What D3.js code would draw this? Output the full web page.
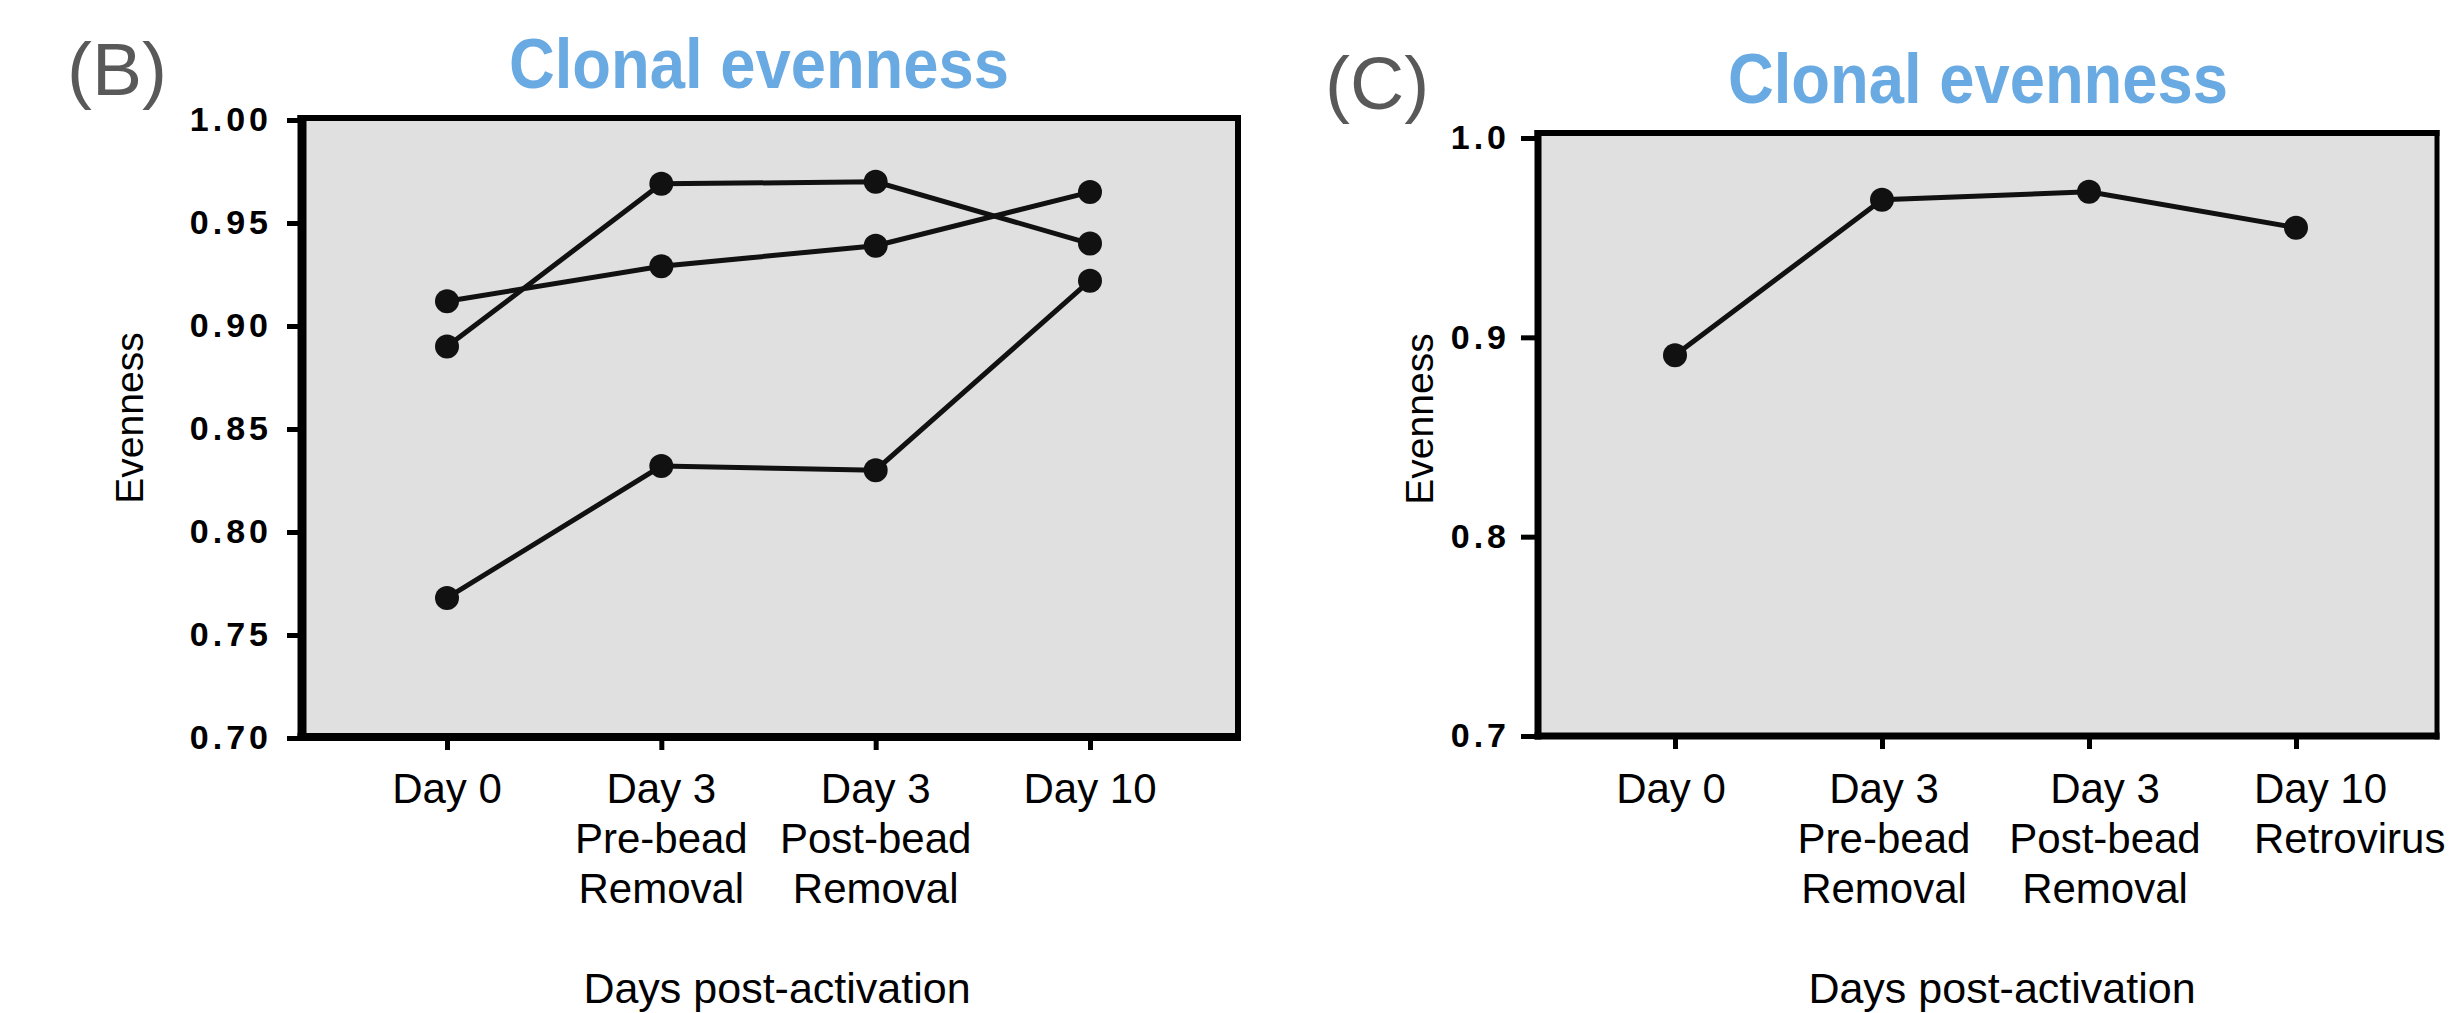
<!DOCTYPE html>
<html>
<head>
<meta charset="utf-8">
<script src="https://cdn.jsdelivr.net/npm/d3@7"></script>
<style>
  html, body { margin: 0; padding: 0; background: #ffffff; }
  svg { display: block; }
  text { font-family: "Liberation Sans", Arial, Helvetica, sans-serif; }
</style>
</head>
<body>
<svg id="chart" width="2450" height="1013"></svg>
<script>
// ---------- DATA ----------
const panelLetters = ["(B)", "(C)"];
const titleText = "Clonal evenness";
const yAxisTitle = "Evenness";
const xAxisTitle = "Days post-activation";

const categoriesB = [["Day 0"], ["Day 3", "Pre-bead", "Removal"], ["Day 3", "Post-bead", "Removal"], ["Day 10"]];
const categoriesC = [["Day 0"], ["Day 3", "Pre-bead", "Removal"], ["Day 3", "Post-bead", "Removal"], ["Day 10", "Retrovirus"]];

const seriesB1 = [0.890, 0.969, 0.970, 0.940];
const seriesB2 = [0.912, 0.929, 0.939, 0.965];
const seriesB3 = [0.768, 0.832, 0.830, 0.922];
const seriesC1 = [0.891, 0.969, 0.973, 0.955];

const ticksB = [0.70, 0.75, 0.80, 0.85, 0.90, 0.95, 1.00];
const ticksC = [0.7, 0.8, 0.9, 1.0];

// ---------- LAYOUT ----------
const svg = d3.select("#chart");

const panels = [
  {
    letter: panelLetters[0], letterX: 67, letterY: 95,
    titleX: 509, titleY: 88, titleW: 500,
    left: 302, right: 1238, top: 118, bottom: 737,
    yDomain: [0.70, 1.00], yRange: [738, 120],
    ticks: ticksB, fmt: d3.format(".2f"),
    frame: { l: 9, t: 6, r: 6, b: 8 },
    tickSize: 15, tickPad: 15,
    xRange: [447, 1090],
    cats: categoriesB,
    series: [seriesB1, seriesB2, seriesB3],
    yTitleX: 143, yTitleY: 418,
    xTitleX: 777,
    labelShift: [0, 0, 0, 0], lastStart: false
  },
  {
    letter: panelLetters[1], letterX: 1325, letterY: 109,
    titleX: 1728, titleY: 103, titleW: 500,
    left: 1538, right: 2437, top: 133, bottom: 736,
    yDomain: [0.7, 1.0], yRange: [736, 138],
    ticks: ticksC, fmt: d3.format(".1f"),
    frame: { l: 7, t: 6, r: 5, b: 7 },
    tickSize: 17, tickPad: 11,
    xRange: [1675, 2296],
    cats: categoriesC,
    series: [seriesC1],
    yTitleX: 1433, yTitleY: 419,
    xTitleX: 2002,
    labelShift: [-4, 2, 16, 0], lastStart: true
  }
];

panels.forEach(p => {
  const g = svg.append("g");
  const y = d3.scaleLinear().domain(p.yDomain).range(p.yRange);
  const x = d3.scalePoint().domain(d3.range(p.cats.length)).range(p.xRange);

  // panel letter
  g.append("text")
    .attr("x", p.letterX).attr("y", p.letterY)
    .attr("font-size", 75).attr("fill", "#595959")
    .text(p.letter);

  // title
  g.append("text")
    .attr("x", p.titleX).attr("y", p.titleY)
    .attr("font-size", 70).attr("font-weight", "bold")
    .attr("fill", "#6aaae2")
    .attr("textLength", p.titleW).attr("lengthAdjust", "spacingAndGlyphs")
    .style("font-family", "'Liberation Sans Narrow','Arial Narrow','Liberation Sans',Arial,sans-serif")
    .text(titleText);

  // plot background
  g.append("rect")
    .attr("x", p.left).attr("y", p.top)
    .attr("width", p.right - p.left).attr("height", p.bottom - p.top)
    .attr("fill", "#e0e0e0");

  // frame
  const f = p.frame;
  g.append("line").attr("x1", p.left - f.l / 2).attr("x2", p.right + f.r / 2)
    .attr("y1", p.top).attr("y2", p.top).attr("stroke", "#000").attr("stroke-width", f.t);
  g.append("line").attr("x1", p.left - f.l / 2).attr("x2", p.right + f.r / 2)
    .attr("y1", p.bottom).attr("y2", p.bottom).attr("stroke", "#000").attr("stroke-width", f.b);
  g.append("line").attr("x1", p.left).attr("x2", p.left)
    .attr("y1", p.top - f.t / 2).attr("y2", p.bottom + f.b / 2).attr("stroke", "#000").attr("stroke-width", f.l);
  g.append("line").attr("x1", p.right).attr("x2", p.right)
    .attr("y1", p.top - f.t / 2).attr("y2", p.bottom + f.b / 2).attr("stroke", "#000").attr("stroke-width", f.r);

  // y axis
  const ya = g.append("g").attr("transform", `translate(${p.left},0)`)
    .call(d3.axisLeft(y).tickValues(p.ticks).tickFormat(p.fmt)
      .tickSize(p.tickSize).tickPadding(p.tickPad));
  ya.select(".domain").remove();
  ya.selectAll(".tick line").attr("stroke", "#000").attr("stroke-width", 5);
  ya.selectAll(".tick text")
    .attr("fill", "#000").attr("font-size", 34).attr("font-weight", "bold")
    .style("letter-spacing", "4px")
    .style("font-family", "'Liberation Sans',Arial,sans-serif");

  // x axis (ticks)
  const xa = g.append("g").attr("transform", `translate(0,${p.bottom})`)
    .call(d3.axisBottom(x).tickSize(13).tickFormat(""));
  xa.select(".domain").remove();
  xa.selectAll(".tick line").attr("stroke", "#000").attr("stroke-width", 5);

  // x category labels
  p.cats.forEach((lines, i) => {
    const isLastStart = p.lastStart && i === p.cats.length - 1;
    const t = g.append("text")
      .attr("font-size", 42).attr("fill", "#000")
      .attr("text-anchor", isLastStart ? "start" : "middle");
    const lx = isLastStart ? x(i) - 42 : x(i) + p.labelShift[i];
    lines.forEach((ln, k) => {
      t.append("tspan").attr("x", lx).attr("y", 803 + k * 50).text(ln);
    });
  });

  // axis titles
  g.append("text")
    .attr("transform", `translate(${p.yTitleX},${p.yTitleY}) rotate(-90)`)
    .attr("text-anchor", "middle").attr("font-size", 39).attr("fill", "#000")
    .text(yAxisTitle);
  g.append("text")
    .attr("x", p.xTitleX).attr("y", 1003)
    .attr("text-anchor", "middle").attr("font-size", 43).attr("fill", "#000")
    .text(xAxisTitle);

  // lines + points
  const line = d3.line().x((d, i) => x(i)).y(d => y(d));
  p.series.forEach(s => {
    g.append("path").datum(s)
      .attr("d", line).attr("fill", "none")
      .attr("stroke", "#111").attr("stroke-width", 5);
    g.selectAll(null).data(s).enter().append("circle")
      .attr("cx", (d, i) => x(i)).attr("cy", d => y(d))
      .attr("r", 12).attr("fill", "#111");
  });
});
</script>
</body>
</html>
